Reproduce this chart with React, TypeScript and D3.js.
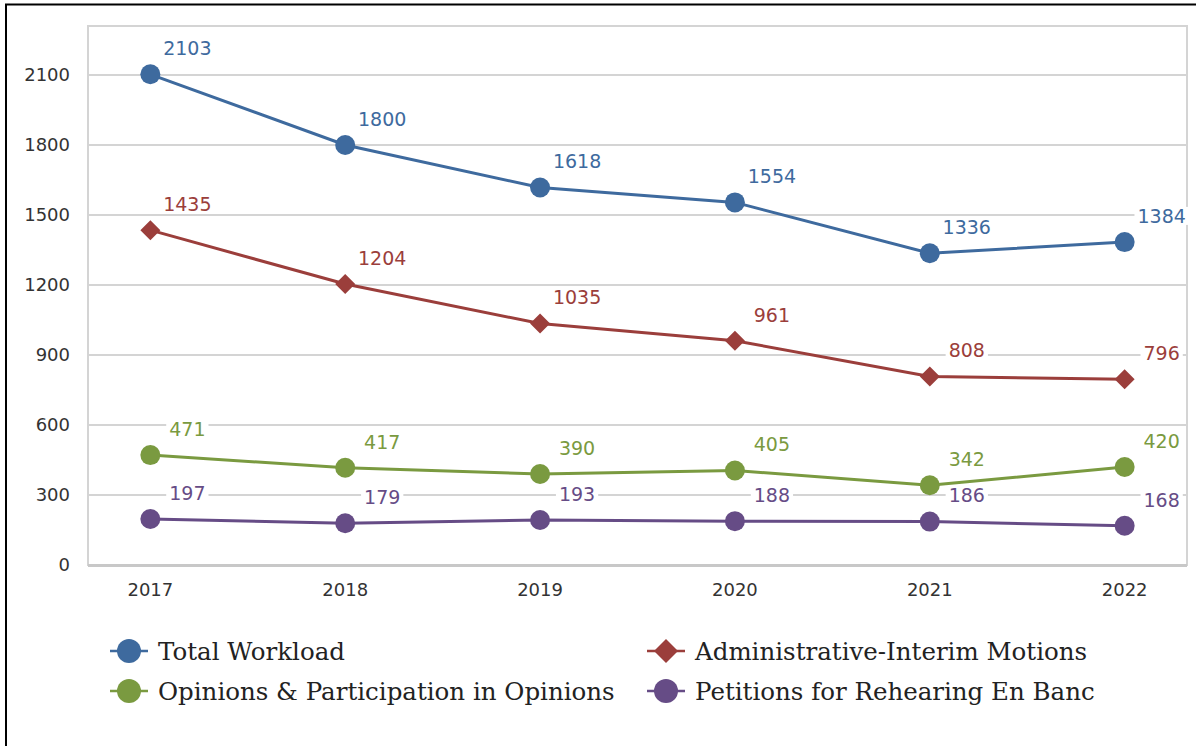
import * as d3 from 'd3';
import React, {useEffect, useRef} from 'react';

const years = ['2017', '2018', '2019', '2020', '2021', '2022'];
const totalWorkload = [2103, 1800, 1618, 1554, 1336, 1384];
const adminMotions = [1435, 1204, 1035, 961, 808, 796];
const opinions = [471, 417, 390, 405, 342, 420];
const petitions = [197, 179, 193, 188, 186, 168];
const yTicks = [0, 300, 600, 900, 1200, 1500, 1800, 2100];

const seriesNames = [
    'Total Workload',
    'Administrative-Interim Motions',
    'Opinions & Participation in Opinions',
    'Petitions for Rehearing En Banc',
];
const seriesColors = ['#3e6a9e', '#9b3e3b', '#7a9a40', '#664c86'];
const seriesShapes = ['circle', 'diamond', 'circle', 'circle'];

export default function App() {
    const ref = useRef<SVGSVGElement>(null);

    useEffect(() => {
        document.body.style.margin = '0';
        const W = 1196, H = 746;
        const left = 88, right = 1187, top = 26, bottom = 565;
        const svg = d3.select(ref.current);
        svg.selectAll('*').remove();

        svg.append('rect').attr('width', W).attr('height', H).attr('fill', 'white');

        // black frame (top + left only, picture is cropped)
        svg.append('path')
            .attr('d', `M6,${H} L6,4.5 L${W},4.5`)
            .attr('fill', 'none')
            .attr('stroke', 'black')
            .attr('stroke-width', 2);

        const x = d3.scalePoint<string>()
            .domain(years)
            .range([left, right])
            .padding(0.32);

        const y = d3.scaleLinear()
            .domain([0, 2310])
            .range([bottom, top]);

        // grid
        svg.append('g')
            .selectAll('line')
            .data(yTicks.filter((d) => d > 0))
            .join('line')
            .attr('x1', left).attr('x2', right)
            .attr('y1', (d) => y(d)).attr('y2', (d) => y(d))
            .attr('stroke', '#d4d4d4')
            .attr('stroke-width', 2);

        // plot frame
        svg.append('rect')
            .attr('x', left).attr('y', top)
            .attr('width', right - left).attr('height', bottom - top)
            .attr('fill', 'none')
            .attr('stroke', '#d4d4d4')
            .attr('stroke-width', 2);
        svg.append('line')
            .attr('x1', left).attr('x2', right)
            .attr('y1', bottom + 0.5).attr('y2', bottom + 0.5)
            .attr('stroke', '#c8c8c8')
            .attr('stroke-width', 3);

        // y axis labels
        svg.append('g')
            .selectAll('text')
            .data(yTicks)
            .join('text')
            .attr('x', 70)
            .attr('y', (d) => y(d))
            .attr('dy', '0.36em')
            .attr('text-anchor', 'end')
            .attr('fill', '#333')
            .style('font-family', 'DejaVu Sans')
            .style('font-size', '18px')
            .text((d) => d);

        // x axis labels
        svg.append('g')
            .selectAll('text')
            .data(years)
            .join('text')
            .attr('x', (d) => x(d)!)
            .attr('y', 590)
            .attr('dy', '0.36em')
            .attr('text-anchor', 'middle')
            .attr('fill', '#333')
            .style('font-family', 'DejaVu Sans')
            .style('font-size', '18px')
            .text((d) => d);

        const allSeries = [totalWorkload, adminMotions, opinions, petitions];
        const line = d3.line<number>()
            .x((d, i) => x(years[i])!)
            .y((d) => y(d));

        // draw from bottom series up so top ones are on top
        const order = [3, 2, 1, 0];
        order.forEach((s) => {
            const values = allSeries[s];
            const color = seriesColors[s];
            const g = svg.append('g');
            g.append('path')
                .datum(values)
                .attr('d', line)
                .attr('fill', 'none')
                .attr('stroke', color)
                .attr('stroke-width', 3);
            values.forEach((v, i) => {
                const cx = x(years[i])!, cy = y(v);
                if (seriesShapes[s] === 'diamond') {
                    g.append('path')
                        .attr('d', `M${cx},${cy - 10} L${cx + 10},${cy} L${cx},${cy + 10} L${cx - 10},${cy} Z`)
                        .attr('fill', color);
                } else {
                    g.append('circle')
                        .attr('cx', cx).attr('cy', cy).attr('r', 10)
                        .attr('fill', color);
                }
            });
        });

        // data labels with white boxes
        order.forEach((s) => {
            const values = allSeries[s];
            const color = seriesColors[s];
            values.forEach((v, i) => {
                const lx = x(years[i])! + 37, ly = y(v) - 26;
                const lg = svg.append('g');
                const t = lg.append('text')
                    .attr('x', lx)
                    .attr('y', ly)
                    .attr('dy', '0.36em')
                    .attr('text-anchor', 'middle')
                    .attr('fill', color)
                    .style('font-family', 'DejaVu Sans')
                    .style('font-size', '19px')
                    .text(v);
                const bb = (t.node() as SVGTextElement).getBBox();
                lg.insert('rect', 'text')
                    .attr('x', bb.x - 3).attr('y', bb.y + 2)
                    .attr('width', bb.width + 6).attr('height', bb.height - 4)
                    .attr('fill', 'white');
            });
        });

        // legend
        const legendPos = [
            [129, 651], [666, 651], [129, 691], [666, 691],
        ];
        seriesNames.forEach((name, s) => {
            const [mx, my] = legendPos[s];
            const color = seriesColors[s];
            const lg = svg.append('g');
            lg.append('line')
                .attr('x1', mx - 19).attr('x2', mx + 19)
                .attr('y1', my).attr('y2', my)
                .attr('stroke', color)
                .attr('stroke-width', 2.5);
            if (seriesShapes[s] === 'diamond') {
                lg.append('path')
                    .attr('d', `M${mx},${my - 12} L${mx + 12},${my} L${mx},${my + 12} L${mx - 12},${my} Z`)
                    .attr('fill', color);
            } else {
                lg.append('circle')
                    .attr('cx', mx).attr('cy', my).attr('r', 12)
                    .attr('fill', color);
            }
            lg.append('text')
                .attr('x', mx + 29)
                .attr('y', my)
                .attr('dy', '0.36em')
                .attr('fill', '#222')
                .style('font-family', 'DejaVu Serif')
                .style('font-size', '24.5px')
                .text(name);
        });
    }, []);

    return <svg ref={ref} width={1196} height={746} style={{display: 'block'}} />;
}
